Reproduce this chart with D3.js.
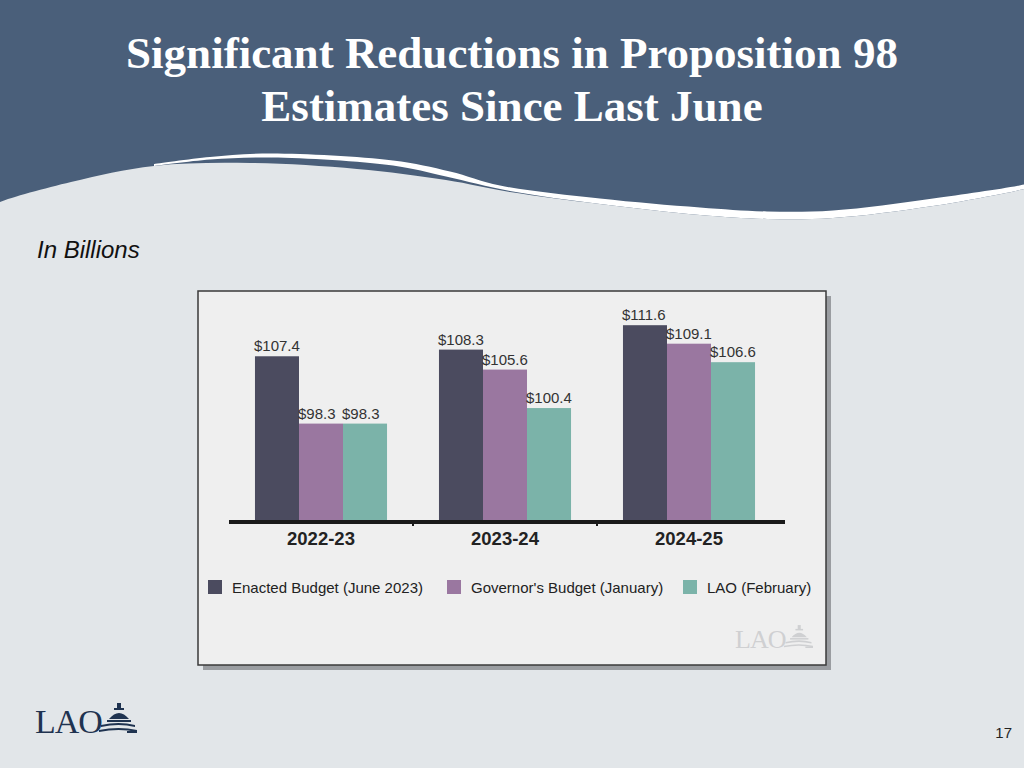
<!DOCTYPE html>
<html>
<head>
<meta charset="utf-8">
<script src="https://cdn.jsdelivr.net/npm/d3@7"></script>
<style>
  html, body { margin: 0; padding: 0; background: #e2e6e9; }
  svg { display: block; }
</style>
</head>
<body>
<svg id="chart" width="1024" height="768"></svg>
<script>
// ---- Data ----
const categories = ["2022-23", "2023-24", "2024-25"];
const seriesNames = ["Enacted Budget (June 2023)", "Governor's Budget (January)", "LAO (February)"];
const enacted = [107.4, 108.3, 111.6];
const governor = [98.3, 105.6, 109.1];
const lao = [98.3, 100.4, 106.6];
const seriesValues = [enacted, governor, lao];
const seriesColors = ["#4b4b5f", "#9a77a0", "#7bb3a9"];
const titleLines = ["Significant Reductions in Proposition 98", "Estimates Since Last June"];

const svg = d3.select("#chart");

// ---- Background & header wave ----
svg.append("rect").attr("width", 1024).attr("height", 768).attr("fill", "#e2e6e9");
svg.append("rect").attr("width", 1024).attr("height", 240).attr("fill", "#4a5f7a");

const waveLine = d3.line().curve(d3.curveCatmullRom.alpha(0.5));
const darkEdge = [[154, 164], [210, 157], [271, 153.5], [393, 160.5], [450, 171.5], [500, 185.5], [600, 198.5], [700, 207.5], [767, 211.5], [833, 210.5], [933, 198.5], [1024, 184.5], [1030, 182.5]];
const whiteLower = [[1030, 187], [1024, 189], [933, 206], [833, 218], [767, 219], [700, 215], [600, 204], [510, 191], [446, 176.5], [393, 165.5], [271, 157.5], [210, 159.5], [154, 166]];
const lightEdge = [[-5, 205], [0, 202], [71, 182], [154, 166], [250, 163], [357, 169], [446, 180], [510, 192], [600, 204], [700, 215], [767, 219], [833, 218], [933, 206], [1024, 189], [1030, 187]];

svg.append("path")
  .attr("d", waveLine(darkEdge) + "L" + waveLine(whiteLower).slice(1) + "Z")
  .attr("fill", "#ffffff");
svg.append("path")
  .attr("d", waveLine(lightEdge) + "L1030,260L-5,260Z")
  .attr("fill", "#e2e6e9");

// ---- Title ----
svg.append("g").selectAll("text").data(titleLines).join("text")
  .attr("x", 512)
  .attr("y", (d, i) => 68 + i * 53)
  .attr("text-anchor", "middle")
  .attr("font-family", "'Liberation Serif', 'Times New Roman', serif")
  .attr("font-weight", "bold")
  .attr("font-size", 45)
  .attr("fill", "#ffffff")
  .text(d => d);

svg.append("text")
  .attr("x", 37).attr("y", 258)
  .attr("font-family", "'Liberation Sans', Arial, sans-serif")
  .attr("font-style", "italic")
  .attr("font-size", 24)
  .attr("fill", "#111")
  .text("In Billions");

// ---- Chart frame ----
svg.append("rect").attr("x", 203).attr("y", 296).attr("width", 628).attr("height", 374).attr("fill", "#9a9da1");
svg.append("rect").attr("x", 198).attr("y", 291).attr("width", 628).attr("height", 374)
  .attr("fill", "#efefef").attr("stroke", "#3a3a3a").attr("stroke-width", 1.5);

// ---- Scales ----
const x0 = d3.scaleBand().domain(categories).range([229, 781]).paddingInner(0).paddingOuter(0);
const x1 = d3.scaleBand().domain(d3.range(seriesNames.length)).range([0, x0.bandwidth()]).paddingInner(0).paddingOuter(0.59);
const y = d3.scaleLinear().domain([85, 111.6]).range([522, 325.2]);

const groups = svg.append("g").selectAll("g").data(categories).join("g")
  .attr("transform", d => `translate(${x0(d)},0)`);

groups.selectAll("rect").data((d, ci) => seriesValues.map((s, si) => ({ si, v: s[ci] }))).join("rect")
  .attr("x", d => x1(d.si))
  .attr("y", d => y(d.v))
  .attr("width", x1.bandwidth())
  .attr("height", d => y(85) - y(d.v))
  .attr("fill", d => seriesColors[d.si]);

groups.selectAll("text.val").data((d, ci) => seriesValues.map((s, si) => ({ si, v: s[ci] }))).join("text")
  .attr("class", "val")
  .attr("x", d => x1(d.si) - 1)
  .attr("y", d => y(d.v) - 5)
  .attr("font-family", "'Liberation Sans', Arial, sans-serif")
  .attr("font-size", 15)
  .attr("fill", "#333")
  .text(d => "$" + d.v.toFixed(1));

// ---- Axis ----
const xAxis = d3.axisBottom(x0).tickSize(0).tickPadding(10);
const axisG = svg.append("g").attr("transform", "translate(0,522)").call(xAxis);
axisG.select(".domain").remove();
axisG.selectAll("text")
  .attr("font-family", "'Liberation Sans', Arial, sans-serif")
  .attr("font-weight", "bold")
  .attr("font-size", 18.5)
  .attr("fill", "#222");
svg.append("line").attr("x1", 229).attr("x2", 785).attr("y1", 522).attr("y2", 522)
  .attr("stroke", "#1a1a1a").attr("stroke-width", 4);
svg.append("g").selectAll("line").data(categories.slice(1)).join("line")
  .attr("x1", d => x0(d)).attr("x2", d => x0(d))
  .attr("y1", 522).attr("y2", 526)
  .attr("stroke", "#1a1a1a").attr("stroke-width", 2);

// ---- Legend ----
const legendX = [208, 447, 683];
const legend = svg.append("g").selectAll("g").data(seriesNames).join("g")
  .attr("transform", (d, i) => `translate(${legendX[i]},580)`);
legend.append("rect").attr("width", 14).attr("height", 14).attr("fill", (d, i) => seriesColors[i]);
legend.append("text").attr("x", 24).attr("y", 13)
  .attr("font-family", "'Liberation Sans', Arial, sans-serif")
  .attr("font-size", 15)
  .attr("fill", "#222")
  .text(d => d);

// ---- LAO logos ----
function laoLogo(g, x, yb, size, color) {
  g.append("text").attr("x", x).attr("y", yb)
    .attr("font-family", "'Liberation Serif', 'Times New Roman', serif")
    .attr("font-size", size)
    .attr("fill", color)
    .attr("letter-spacing", -1)
    .text("LAO");
  const s = size / 34;
  const dx = x + 72 * s;
  const dome = g.append("g").attr("transform", `translate(${dx},${yb}) scale(${s})`).attr("fill", color);
  dome.append("path").attr("d", "M2,-14 Q12,-26 22,-14 Z");
  dome.append("rect").attr("x", 10).attr("y", -30).attr("width", 4).attr("height", 6);
  dome.append("rect").attr("x", 7).attr("y", -25).attr("width", 10).attr("height", 2);
  dome.append("rect").attr("x", 0).attr("y", -13).attr("width", 24).attr("height", 2);
  dome.append("path").attr("d", "M-6,-8 Q12,-12 28,-8 L28,-6 Q12,-10 -6,-6 Z");
  dome.append("path").attr("d", "M-8,-3 Q12,-7 30,-3 L30,-1 Q12,-5 -8,-1 Z");
  dome.append("rect").attr("x", 20).attr("y", -2).attr("width", 10).attr("height", 2);
}
laoLogo(svg.append("g"), 735, 648, 26, "#cfd0d2");
laoLogo(svg.append("g"), 35, 733, 34, "#1f3350");

// ---- Page number ----
svg.append("text").attr("x", 1012).attr("y", 738).attr("text-anchor", "end")
  .attr("font-family", "'Liberation Sans', Arial, sans-serif")
  .attr("font-size", 15).attr("fill", "#222").text("17");
</script>
</body>
</html>
